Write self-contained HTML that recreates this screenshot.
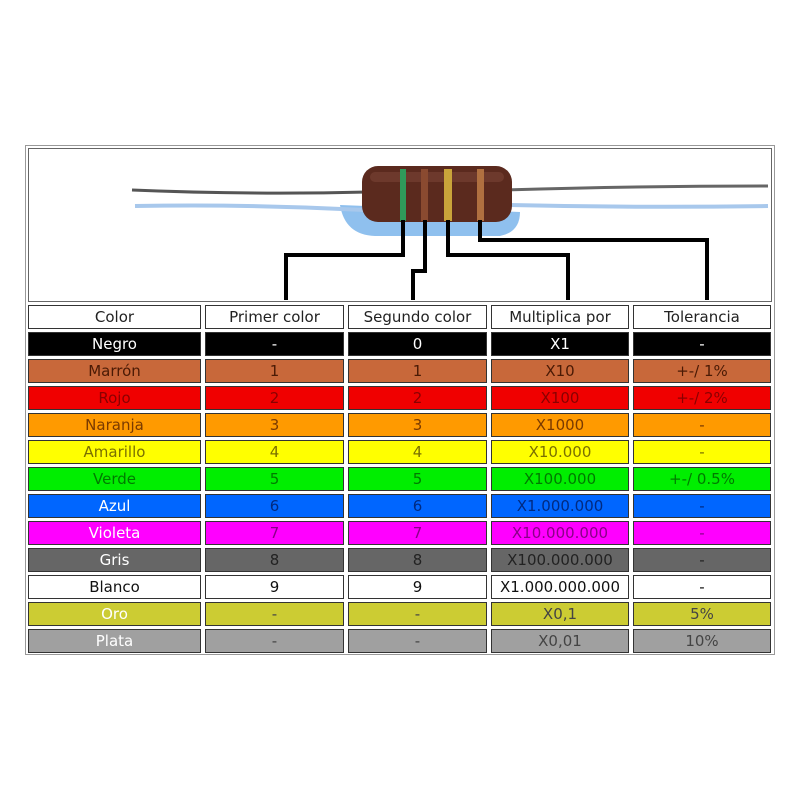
<!DOCTYPE html>
<html><head><meta charset="utf-8"><style>
body{margin:0;width:800px;height:800px;background:#fff;position:relative;font-family:"DejaVu Sans","Liberation Sans",sans-serif;overflow:hidden}
.c{position:absolute;height:22px;border:1px solid #333;font-size:15px;line-height:22px;text-align:center;box-sizing:content-box}
</style></head><body>
<div style="position:absolute;left:25px;top:145px;width:748px;height:508px;border:1px solid #999"></div>
<div style="position:absolute;left:28px;top:148px;width:742px;height:152px;border:1px solid #666"></div>
<svg style="position:absolute;left:0;top:0" width="800" height="800">
<path d="M340 205 Q345 235 375 236 L500 236 Q520 232 520 212 Z" fill="#8fc0ee"/>
<path d="M135 206 Q250 204 365 210" stroke="#a8c8ec" stroke-width="4" fill="none"/>
<path d="M510 205 Q640 208 768 206" stroke="#a8c8ec" stroke-width="4" fill="none"/>
<path d="M132 190 Q250 195 368 192" stroke="#555" stroke-width="3" fill="none"/>
<path d="M505 190 Q640 186 768 186" stroke="#666" stroke-width="3" fill="none"/>
<rect x="362" y="166" width="150" height="56" rx="16" fill="#5b2a1e"/>
<rect x="370" y="172" width="134" height="10" rx="5" fill="#7a4535" opacity=".6"/>
<rect x="400" y="169" width="6" height="52" fill="#2f9a5a"/>
<rect x="421" y="169" width="7" height="52" fill="#8a4a30"/>
<rect x="444" y="169" width="8" height="52" fill="#c9a43a"/>
<rect x="477" y="169" width="7" height="52" fill="#b07040"/>
<g stroke="#000" stroke-width="4" fill="none">
<path d="M403 220 V255 H286 V300"/>
<path d="M425 220 V271 H413 V300"/>
<path d="M448 220 V255 H568 V300"/>
<path d="M480 220 V240 H707 V300"/>
</g>
</svg>
<div id="t"></div>
<script>
var cols=[[28,173],[205,139],[348,139],[491,138],[633,138]];
var rows=[
["#fff","#222","#222",["Color","Primer color","Segundo color","Multiplica por","Tolerancia"]],
["#000","#fff","#fff",["Negro","-","0","X1","-"]],
["#c8683a","#4a1a05","#4a1a05",["Marrón","1","1","X10","+-/ 1%"]],
["#f00000","#8a0000","#8a0000",["Rojo","2","2","X100","+-/ 2%"]],
["#ff9a00","#7a3a00","#7a3a00",["Naranja","3","3","X1000","-"]],
["#ffff00","#7a7000","#7a7000",["Amarillo","4","4","X10.000","-"]],
["#00ee00","#007a00","#007a00",["Verde","5","5","X100.000","+-/ 0.5%"]],
["#0066ff","#fff","#002a80",["Azul","6","6","X1.000.000","-"]],
["#ff00ff","#fff","#8a0088",["Violeta","7","7","X10.000.000","-"]],
["#666","#fff","#222",["Gris","8","8","X100.000.000","-"]],
["#fff","#111","#111",["Blanco","9","9","X1.000.000.000","-"]],
["#cccc33","#fff","#444",["Oro","-","-","X0,1","5%"]],
["#a0a0a0","#fff","#444",["Plata","-","-","X0,01","10%"]]];
var h="";
rows.forEach(function(r,i){var y=305+27*i;cols.forEach(function(c,j){
h+='<div class="c" style="left:'+c[0]+'px;top:'+y+'px;width:'+(c[1]-2)+'px;background:'+r[0]+';color:'+(j==0?r[1]:r[2])+'">'+r[3][j]+'</div>';});});
document.getElementById("t").innerHTML=h;
</script>
</body></html>
